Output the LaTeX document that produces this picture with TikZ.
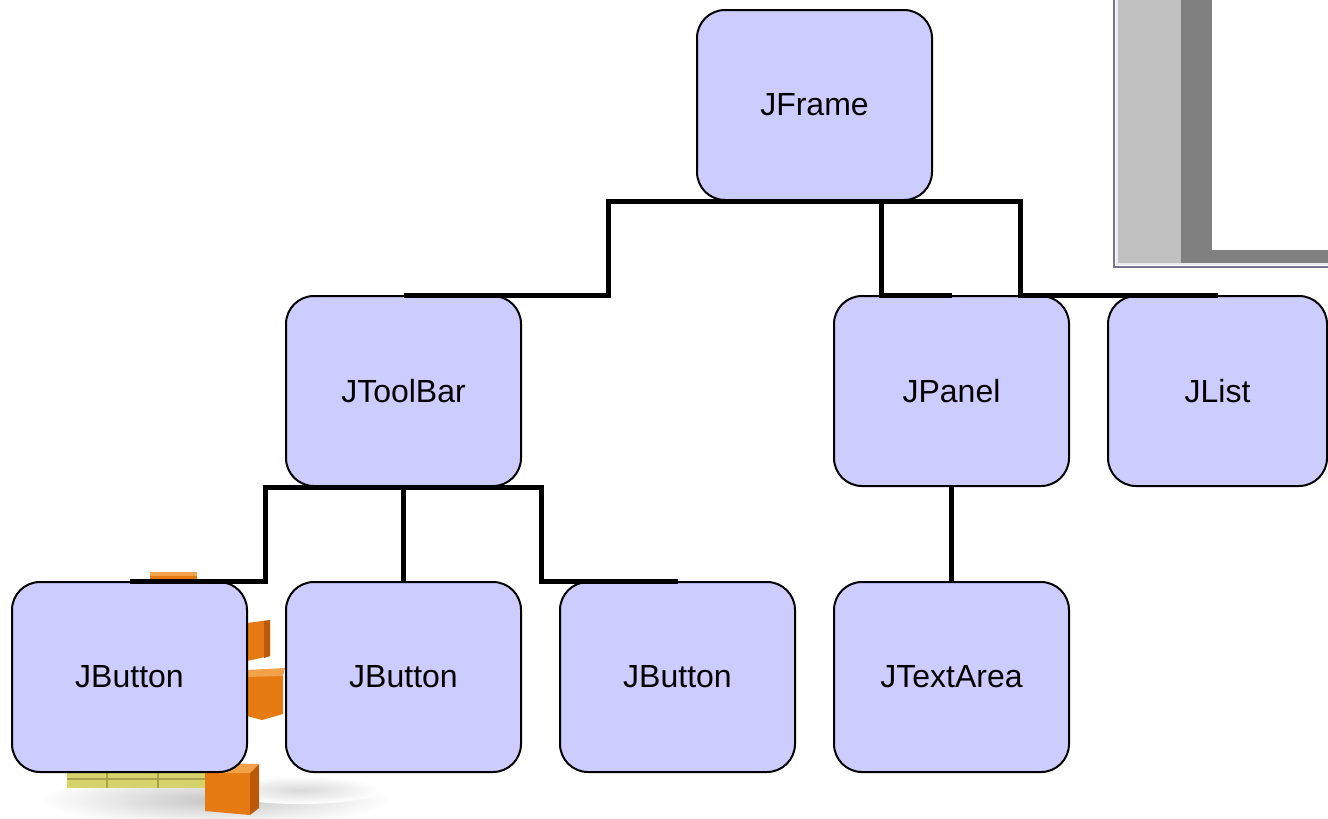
\documentclass[tikz,border=0pt]{standalone}
\usepackage{fontspec}
\setmainfont{Liberation Sans}
\usetikzlibrary{shapes,arrows,positioning}
\definecolor{boxfill}{HTML}{CCCCFF}
\definecolor{winlight}{HTML}{C0C0C0}
\definecolor{windark}{HTML}{808080}
\definecolor{winedge}{HTML}{74748E}
\definecolor{cubeface}{HTML}{E57A12}
\definecolor{cubetop}{HTML}{F3A24A}
\definecolor{cubeside}{HTML}{B95A08}
\definecolor{cubeyel}{HTML}{D6D26C}
\definecolor{cubeyeldark}{HTML}{A8A24A}
\tikzstyle{comp}     = [draw, line width=1pt, fill=boxfill, rounded corners=14pt, minimum width=117.5pt, minimum height=95pt, font=\fontsize{16}{19}\selectfont]
\tikzstyle{tree}     = [draw, line width=2.5pt]

\begin{document}
\begin{tikzpicture}[x=0.5pt, y=-0.5pt]
	\useasboundingbox (0,0) rectangle (1328,819);
	% Window in the corner %
	\fill[winlight] (1117,0) rectangle (1181,263);
	\fill[windark] (1181,0) rectangle (1212,263);
	\fill[windark] (1212,250) rectangle (1328,263);
	\draw[white!85!winedge, line width=1pt] (1117,0) |- (1328,264);
	\draw[winedge, line width=1pt] (1114,0) |- (1328,267);
	% Cubes under the buttons %
	\shade[inner color=gray!45, outer color=white] (215,800) ellipse (175 and 26);
	\shade[inner color=gray!30, outer color=white] (300,790) ellipse (80 and 14);
	\fill[cubeyel] (67,772) rectangle (205,788);
	\draw[cubeyeldark, line width=0.6pt] (67,779) -- (205,779) (107,772) -- (107,788) (158,772) -- (158,788);
	\fill[cubeface] (150,572) rectangle (197,584);
	\fill[cubetop] (150,572) rectangle (197,576);
	\fill[cubeface] (247,623) -- (270,620) -- (270,656) -- (247,661) -- cycle;
	\fill[cubeside] (264,621) -- (270,620) -- (270,656) -- (264,658) -- cycle;
	\fill[cubeface] (247,675) -- (283,675) -- (283,714) -- (262,720) -- (247,716) -- cycle;
	\fill[cubetop] (247,670) -- (285,668) -- (283,676) -- (247,677) -- cycle;
	\fill[cubeface] (205,773) -- (250,773) -- (250,815) -- (205,811) -- cycle;
	\fill[cubeside] (250,770) -- (259,764) -- (259,808) -- (250,815) -- cycle;
	\fill[cubetop] (205,773) -- (214,763) -- (259,764) -- (250,773) -- cycle;
	% Node Setting %
	\node [comp] at (129.5,677) (jb1) {JButton};
	\node [comp, right of = jb1, node distance=137pt] (jb2) {JButton};
	\node [comp, right of = jb2, node distance=137pt] (jb3) {JButton};
	\node [comp, right of = jb3, node distance=137pt] (jta) {JTextArea};
	\node [comp, above of = jb2, node distance=143pt] (toolbar) {JToolBar};
	\node [comp, above of = jta, node distance=143pt] (panel) {JPanel};
	\node [comp, right of = panel, node distance=137pt, xshift=-4pt, minimum width=109.5pt] (list) {JList};
	\node [comp, above of = panel, node distance=143pt, xshift=-68.5pt] (frame) {JFrame};
	% Connection %
	\path [tree] (frame.south) -- ++(-206,0) |- (toolbar.north);
	\path [tree] (frame.south) -- ++(67,0) |- (panel.north);
	\path [tree] (frame.south) -- ++(206,0) |- (list.north);
	\path [tree] (toolbar.south) -- ++(-138,0) |- (jb1.north);
	\path [tree] (toolbar.south) -- (jb2.north);
	\path [tree] (toolbar.south) -- ++(138,0) |- (jb3.north);
	\path [tree] (panel.south) -- (jta.north);
\end{tikzpicture}
\end{document}
